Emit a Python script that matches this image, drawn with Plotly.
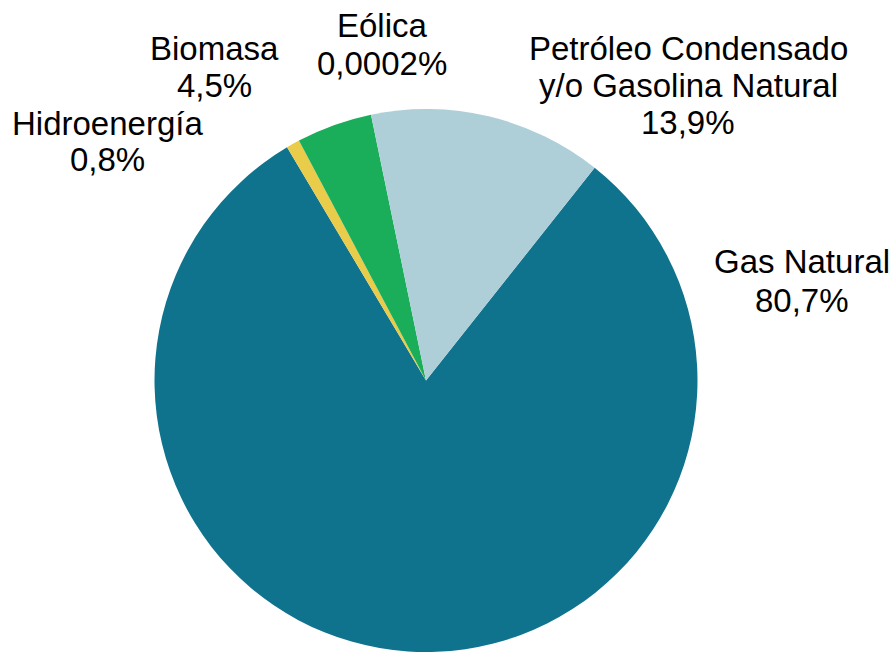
import plotly.graph_objects as go

# Energy mix shares (%), listed clockwise starting from Gas Natural
names = [
    "Gas Natural",
    "Hidroenergía",
    "Biomasa",
    "Eólica",
    "Petróleo Condensado<br>y/o Gasolina Natural",
]
shares = [80.7, 0.8, 4.5, 0.0002, 13.9]
colors = ["#10738E", "#E8CC4A", "#1AAE5A", "#0DB1E3", "#AECFD8"]

# Label placement in pixels: centre x and the baseline of each text line
label_cx = [802, 107, 214, 382, 688]
label_baselines = [
    [273, 311.5],
    [135, 171],
    [60, 97],
    [37, 75],
    [60, 97, 134],
]

W, H = 895, 652
FONT_SIZE = 33


def fmt(v):
    return f"{v:g}".replace(".", ",") + "%"


fig = go.Figure(
    go.Pie(
        labels=[n.replace("<br>", " ") for n in names],
        values=shares,
        marker=dict(colors=colors),
        sort=False,
        direction="clockwise",
        rotation=38.4,
        textinfo="none",
        hoverinfo="label+percent",
        domain=dict(x=[153 / W, 699 / W], y=[0, 1 - 109 / H]),
    )
)

annotations = []
for name, value, cx, baselines in zip(names, shares, label_cx, label_baselines):
    lines = name.split("<br>") + [fmt(value)]
    for line, base in zip(lines, baselines):
        y_mid = base - 0.3465 * FONT_SIZE
        annotations.append(
            dict(
                text=line,
                x=cx / W,
                y=1 - y_mid / H,
                xref="paper",
                yref="paper",
                xanchor="center",
                yanchor="middle",
                showarrow=False,
                font=dict(size=FONT_SIZE, color="#000000",
                          family="Liberation Sans, Arial, sans-serif"),
            )
        )

fig.update_layout(
    width=W,
    height=H,
    margin=dict(l=0, r=0, t=0, b=0),
    paper_bgcolor="white",
    plot_bgcolor="white",
    showlegend=False,
    annotations=annotations,
)

fig.write_html("out.html")
